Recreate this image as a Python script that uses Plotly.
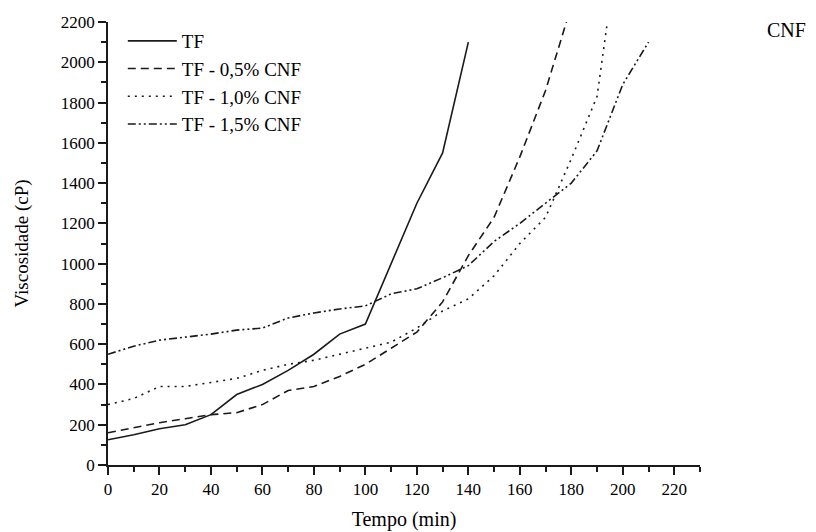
import plotly.graph_objects as go

# ---- data ----
time_tf = [0, 10, 20, 30, 40, 50, 60, 70, 80, 90, 100, 110, 120, 130, 140]
visc_tf = [125, 150, 180, 200, 250, 350, 400, 470, 550, 650, 700, 1000, 1300, 1550, 2100]

time_05 = [0, 10, 20, 30, 40, 50, 60, 70, 80, 90, 100, 110, 120, 130, 140, 150, 160, 170, 180]
visc_05 = [160, 185, 210, 230, 250, 260, 300, 370, 390, 440, 500, 580, 660, 810, 1040, 1230, 1530, 1860, 2280]

time_10 = [0, 10, 20, 30, 40, 50, 60, 70, 80, 90, 100, 110, 120, 130, 140, 150, 160, 170, 180, 190, 200]
visc_10 = [300, 330, 390, 390, 410, 430, 470, 500, 520, 550, 580, 610, 680, 765, 825, 940, 1100, 1230, 1520, 1830, 2750]

time_15 = [0, 10, 20, 30, 40, 50, 60, 70, 80, 90, 100, 110, 120, 130, 140, 150, 160, 170, 180, 190, 200, 210]
visc_15 = [550, 590, 620, 635, 650, 670, 680, 730, 755, 775, 790, 850, 875, 930, 990, 1110, 1200, 1300, 1400, 1560, 1890, 2100]

series_names = ["TF", "TF - 0,5% CNF", "TF - 1,0% CNF", "TF - 1,5% CNF"]
x_title = "Tempo (min)"
y_title = "Viscosidade (cP)"
corner_text = "CNF"

FONT = "Liberation Serif, Times New Roman, serif"
INK = "#1a1a1a"

fig = go.Figure()
styles = ["solid", "8px,5px", "2px,5px", "8px,3px,2px,3px,2px,3px"]
for name, xs, ys, dash in zip(series_names,
                              [time_tf, time_05, time_10, time_15],
                              [visc_tf, visc_05, visc_10, visc_15],
                              styles):
    fig.add_trace(go.Scatter(x=xs, y=ys, mode="lines", name=name,
                             line=dict(color=INK, width=1.6, dash=dash)))

# the page body adds an 8px offset, so the figure is 808x524
fig.update_layout(
    width=808, height=524,
    margin=dict(l=100, r=116, t=14, b=67),
    paper_bgcolor="white", plot_bgcolor="white",
    font=dict(family=FONT, color="black", size=17),
    showlegend=True,
    legend=dict(x=0.025, y=1.0, xanchor="left", yanchor="top",
                bgcolor="rgba(0,0,0,0)", font=dict(size=19, family=FONT),
                itemwidth=49, tracegroupgap=0),
    xaxis=dict(range=[0, 230], dtick=20, tick0=0, showgrid=False, zeroline=False,
               showline=True, linecolor=INK, linewidth=1.5, automargin=False,
               ticks="outside", ticklen=8, tickwidth=1.5, tickcolor=INK,
               minor=dict(dtick=10, ticks="outside", ticklen=5, tickwidth=1.5, tickcolor=INK),
               title=dict(text=x_title, font=dict(size=20), standoff=14),
               tickfont=dict(size=17)),
    yaxis=dict(range=[0, 2200], dtick=200, tick0=0, showgrid=False, zeroline=False,
               showline=True, linecolor=INK, linewidth=1.5, automargin=False,
               ticks="outside", ticklen=8, tickwidth=1.5, tickcolor=INK,
               minor=dict(dtick=100, ticks="outside", ticklen=5, tickwidth=1.5, tickcolor=INK),
               title=dict(text=y_title, font=dict(size=19), standoff=27),
               tickfont=dict(size=17)),
    annotations=[dict(text=corner_text, xref="paper", yref="paper", x=1.1453, y=0.982,
                      xanchor="center", yanchor="middle", showarrow=False,
                      font=dict(size=20, family=FONT, color="black"))],
)

fig.write_html("out.html")
